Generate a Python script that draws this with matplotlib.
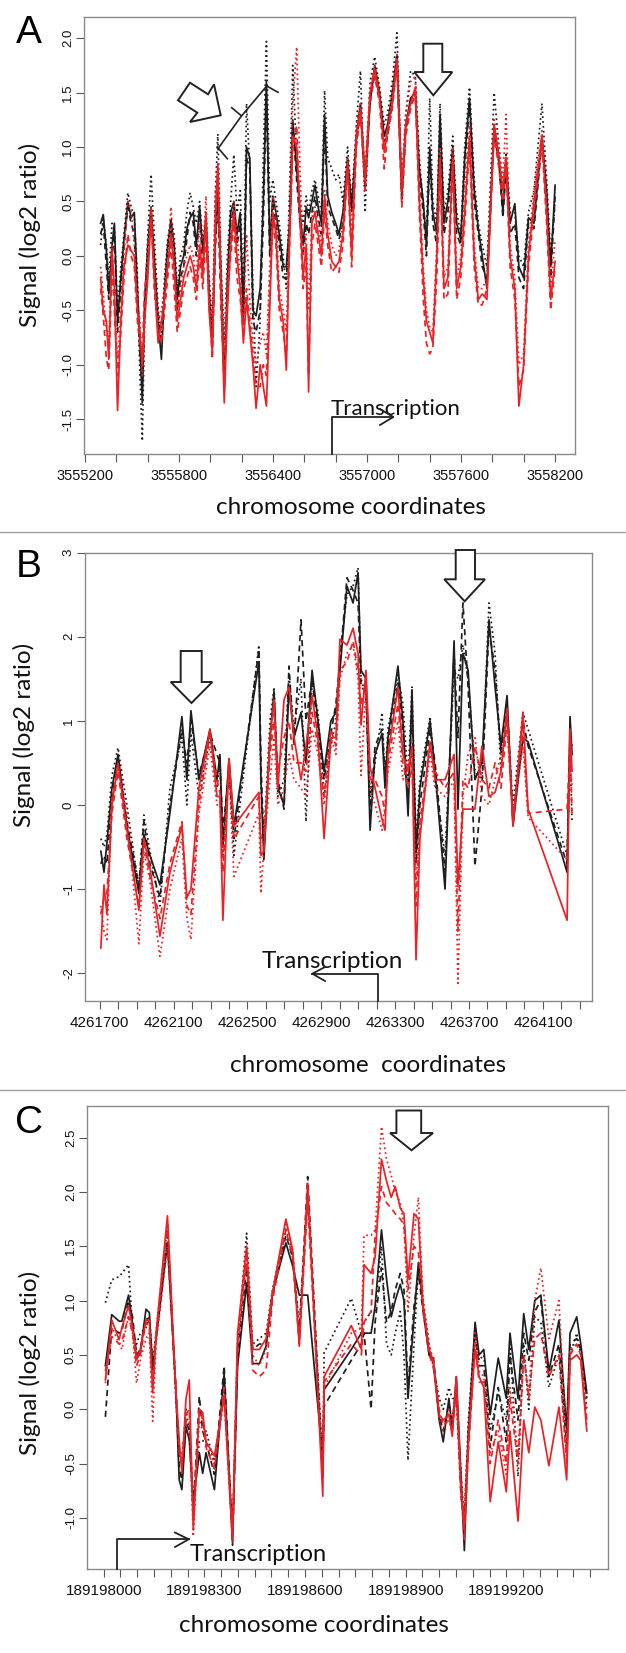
import numpy as np
import matplotlib
matplotlib.use("Agg")
import matplotlib.pyplot as plt
from matplotlib.patches import Polygon
from matplotlib.lines import Line2D

# ---------------- panel A data ----------------
a_pos = [3555300, 3555317, 3555337, 3555352, 3555373, 3555388, 3555408, 3555429, 3555449, 3555474,
         3555495, 3555515, 3555535, 3555551, 3555566, 3555581, 3555601, 3555622, 3555642, 3555667,
         3555688, 3555708, 3555728, 3555749, 3555769, 3555789, 3555810, 3555830, 3555850, 3555871,
         3555891, 3555911, 3555932, 3555952, 3555972, 3555992, 3556013, 3556033, 3556048, 3556069,
         3556089, 3556109, 3556130, 3556150, 3556170, 3556191, 3556211, 3556231, 3556252, 3556272,
         3556292, 3556318, 3556338, 3556358, 3556379, 3556399, 3556419, 3556440, 3556465, 3556485,
         3556506, 3556526, 3556551, 3556572, 3556592, 3556612, 3556627, 3556648, 3556668, 3556688,
         3556709, 3556729, 3556749, 3556775, 3556800, 3556821, 3556846, 3556876, 3556902, 3556932,
         3556958, 3556988, 3557019, 3557049, 3557080, 3557110, 3557130, 3557161, 3557191, 3557222,
         3557247, 3557278, 3557308, 3557334, 3557359, 3557379, 3557400, 3557420, 3557445, 3557466,
         3557491, 3557516, 3557547, 3557572, 3557598, 3557623, 3557654, 3557684, 3557710, 3557735,
         3557765, 3557811, 3557842, 3557867, 3557887, 3557913, 3557943, 3557969, 3557999, 3558030,
         3558065, 3558116, 3558146, 3558172, 3558200]
a_black_solid = [0.30, 0.38, 0.05, -0.35, 0.10, 0.30, -0.60, -0.20, 0.15, 0.50,
                 0.35, 0.40, -0.30, -0.80, -1.35, -0.40, 0.10, 0.45, 0.00, -0.60,
                 -0.95, -0.30, 0.10, 0.33, 0.10, -0.40, -0.10, 0.00, 0.25, 0.35,
                 0.40, 0.10, 0.45, 0.05, 0.35, -0.30, -0.80, 0.20, 0.60, -0.20,
                 -1.20, -0.20, 0.40, 0.50, 0.20, 0.40, -0.60, 1.00, 0.90, -0.50,
                 -0.55, -0.30, 0.50, 1.60, 0.10, 0.55, 0.40, 0.20, -0.10, -0.10,
                 0.30, 1.25, 0.80, 0.40, 0.10, 0.45, 0.35, 0.50, 0.65, 0.45,
                 0.30, 1.30, 0.55, 0.40, 0.30, 0.20, 0.40, 0.90, 0.45, 1.10,
                 1.40, 0.70, 1.40, 1.75, 1.50, 1.10, 1.20, 1.50, 1.85, 0.55,
                 1.20, 1.45, 1.50, 0.80, 0.50, 0.10, 1.00, 0.40, 0.20, 1.30,
                 0.30, 0.50, 1.00, 0.30, 0.15, 0.90, 1.45, 0.60, 0.25, 0.00,
                 -0.30, 1.20, 0.90, 0.40, 0.90, 0.30, 0.48, -0.10, -0.20, 0.35,
                 0.30, 1.10, 0.60, -0.10, 0.65]
a_black_dash = [0.20, 0.30, -0.10, -0.40, 0.00, 0.20, -0.70, -0.30, 0.10, 0.45,
                0.30, 0.20, -0.45, -0.90, -1.20, -0.50, 0.00, 0.35, -0.10, -0.55,
                -0.80, -0.40, 0.00, 0.30, 0.00, -0.50, -0.20, -0.10, 0.15, 0.40,
                0.30, 0.00, 0.40, -0.10, 0.30, -0.40, -0.75, 0.10, 0.50, -0.50,
                -1.10, -0.40, 0.30, 0.45, 0.10, 0.30, -0.70, 0.90, 0.80, -0.60,
                -0.70, -0.50, 0.30, 1.50, 0.00, 0.50, 0.30, 0.10, -0.20, -0.20,
                0.20, 1.20, 0.70, 0.30, 0.00, 0.30, 0.20, 0.40, 0.55, 0.35,
                0.20, 1.20, 0.45, 0.35, 0.25, 0.15, 0.30, 0.80, 0.40, 1.05,
                1.35, 0.60, 1.45, 1.70, 1.45, 1.05, 1.10, 1.40, 1.80, 0.50,
                1.15, 1.40, 1.45, 0.70, 0.40, 0.00, 0.90, 0.30, 0.10, 1.20,
                0.20, 0.40, 0.95, 0.20, 0.10, 0.80, 1.40, 0.50, 0.20, -0.10,
                -0.20, 1.15, 0.85, 0.35, 0.80, 0.20, 0.30, -0.20, -0.30, 0.30,
                0.25, 1.05, 0.50, -0.20, 0.55]
a_black_dot = [0.10, 0.35, 0.10, -0.20, 0.30, 0.25, -0.50, -0.10, 0.20, 0.58,
               0.45, 0.35, -0.20, -1.10, -1.70, -0.60, 0.20, 0.75, 0.20, -0.50,
               -0.70, -0.20, 0.15, 0.35, 0.20, -0.30, 0.00, 0.10, 0.40, 0.58,
               0.45, 0.30, 0.50, 0.10, 0.40, -0.20, -0.60, 0.60, 1.12, -0.10,
               -0.80, 0.00, 0.50, 0.93, 0.40, 0.60, -0.40, 1.40, 0.80, -0.30,
               -1.20, -0.60, 0.90, 1.97, 0.50, 0.70, 0.50, 0.30, 0.00, -0.30,
               0.60, 1.75, 0.90, 0.50, 0.30, 0.55, 0.40, 0.60, 0.70, 0.55,
               0.40, 1.52, 0.90, 0.80, 0.70, 0.75, 0.50, 1.00, 0.50, 1.20,
               1.70, 0.40, 1.60, 1.83, 1.55, 1.20, 1.30, 1.60, 2.05, 0.60,
               1.30, 1.70, 1.65, 0.90, 0.45, 0.20, 1.45, 0.50, 0.30, 1.40,
               0.40, 0.60, 1.10, 0.40, 0.20, 1.00, 1.55, 0.70, 0.30, 0.10,
               -0.10, 1.50, 1.00, 0.60, 0.95, 0.40, 0.40, 0.00, -0.10, 0.40,
               0.60, 1.40, 0.70, 0.00, 0.50]
a_red_solid = [-0.20, -0.50, -0.60, -0.95, 0.05, -0.30, -1.42, -0.60, -0.10, 0.10,
               0.05, 0.00, -0.50, -0.70, -1.00, -0.60, -0.20, 0.35, -0.20, -0.80,
               -0.60, -0.40, -0.10, 0.20, -0.10, -0.60, -0.40, -0.20, -0.10, 0.00,
               -0.10, -0.30, 0.10, -0.20, 0.40, -0.50, -0.90, 0.40, 0.85, -0.40,
               -1.35, -0.50, 0.10, 0.40, 0.00, -0.30, -0.80, -0.40, -0.70, -1.00,
               -1.40, -1.00, -1.20, -1.38, -0.50, 0.40, 0.20, -0.40, -0.60, -1.05,
               0.20, 1.10, 1.00, 0.40, -0.20, 0.10, -1.25, 0.30, 0.40, 0.20,
               0.00, 0.55, 0.20, -0.05, -0.10, -0.05, 0.20, 0.85, 0.00, 1.10,
               1.35, 0.70, 1.50, 1.72, 1.45, 0.95, 1.15, 1.40, 1.80, 0.60,
               1.20, 1.40, 1.55, 0.50, -0.20, -0.60, -0.70, -0.80, 0.00, 0.90,
               -0.30, -0.20, 0.90, -0.30, -0.10, 0.40, 1.10, 0.00, -0.40, -0.35,
               -0.40, 1.20, 0.90, 0.60, 0.90, 0.00, -0.30, -1.38, -1.00, 0.00,
               0.50, 1.10, 0.40, -0.40, -0.05]
a_red_dash = [-0.30, -0.55, -0.95, -1.05, -0.10, -0.50, -1.10, -0.70, -0.20, 0.20,
              0.00, -0.10, -0.60, -0.80, -0.90, -0.30, -0.10, 0.45, -0.30, -0.70,
              -0.80, -0.50, -0.20, 0.10, -0.30, -0.70, -0.50, -0.30, -0.20, -0.10,
              -0.20, -0.40, 0.00, -0.30, 0.20, -0.40, -0.95, 0.20, 0.80, -0.30,
              -1.20, -0.30, 0.00, 0.30, -0.20, -0.40, -0.70, -0.30, -0.60, -0.90,
              -1.20, -1.20, -1.00, -1.10, -0.30, 0.30, 0.10, -0.50, -0.70, -0.90,
              0.10, 1.00, 1.20, 0.30, -0.30, -0.10, -1.10, 0.10, 0.30, 0.10,
              -0.10, 0.40, 0.10, -0.15, -0.10, -0.15, 0.10, 0.80, -0.10, 1.00,
              1.30, 0.60, 1.40, 1.65, 1.40, 0.80, 1.10, 1.35, 1.75, 0.45,
              1.10, 1.35, 1.50, 0.40, -0.40, -0.80, -0.90, -0.85, -0.20, 0.80,
              -0.40, -0.35, 0.85, -0.40, -0.20, 0.30, 1.00, -0.10, -0.45, -0.45,
              -0.30, 1.10, 0.80, 0.50, 0.85, -0.10, -0.40, -1.20, -1.05, -0.10,
              0.40, 1.05, 0.30, -0.50, -0.10]
a_red_dot = [-0.10, -0.35, -0.70, -0.80, 0.10, -0.40, -0.95, -0.50, 0.00, 0.50,
             0.40, 0.10, -0.40, -0.60, -1.10, -0.50, 0.10, 0.40, -0.10, -0.60,
             -0.50, -0.30, 0.00, 0.45, 0.00, -0.50, -0.30, -0.10, 0.00, 0.10,
             0.00, -0.20, 0.30, -0.10, 0.55, -0.30, -0.70, 0.60, 0.70, -0.20,
             -0.90, -0.20, 0.20, 0.50, 0.20, -0.20, -0.60, 0.20, -0.40, -0.80,
             -1.00, -0.80, -0.70, -0.90, -0.10, 0.55, 0.40, -0.30, -0.50, -0.70,
             0.40, 1.40, 1.92, 0.80, 0.00, 0.20, -0.50, 0.35, 0.45, 0.30,
             0.10, 0.60, 0.30, 0.10, 0.00, 0.05, 0.30, 0.90, 0.20, 1.20,
             1.40, 0.80, 1.55, 1.75, 1.50, 1.00, 1.20, 1.50, 1.85, 0.70,
             1.30, 1.60, 1.65, 0.60, -0.10, -0.50, -0.65, -0.70, 0.10, 1.00,
             -0.20, -0.10, 1.00, -0.20, 0.00, 0.60, 1.20, 0.10, -0.30, -0.30,
             -0.20, 1.25, 1.00, 0.70, 1.30, 0.10, -0.20, -1.00, -0.90, 0.10,
             0.60, 1.15, 0.50, -0.30, 0.15]

# ---------------- panel B data ----------------
b_pos = [4261706, 4261723, 4261739, 4261766, 4261799, 4261847, 4261912, 4261939, 4261972, 4262026,
         4262080, 4262145, 4262172, 4262194, 4262237, 4262297, 4262335, 4262351, 4262367, 4262400,
         4262427, 4262562, 4262573, 4262589, 4262622, 4262644, 4262665, 4262698, 4262725, 4262752,
         4262790, 4262817, 4262850, 4262882, 4262915, 4262952, 4262979, 4263001, 4263039, 4263072,
         4263099, 4263115, 4263142, 4263164, 4263191, 4263229, 4263245, 4263261, 4263315, 4263342,
         4263370, 4263391, 4263413, 4263434, 4263489, 4263516, 4263570, 4263619, 4263640, 4263667,
         4263695, 4263732, 4263770, 4263808, 4263841, 4263873, 4263906, 4263938, 4263992, 4264020,
         4264231, 4264247, 4264258]
b_black_solid = [-0.55, -0.80, -0.45, 0.20, 0.60, -0.25, -1.05, -0.35, -0.60, -0.95,
                 -0.10, 1.05, 0.30, 1.12, 0.30, 0.90, 0.30, 0.60, -0.50, 0.55,
                 -0.25, 1.70, 0.30, -0.65, 0.80, 1.35, 0.20, 0.00, 1.40, 0.80,
                 1.10, 0.50, 1.60, 1.00, 0.40, 1.00, 1.10, 1.60, 2.60, 2.40,
                 2.76, 1.60, 1.50, -0.30, 0.60, 0.85, 0.20, 0.80, 1.65, 1.00,
                 -0.13, 1.37, -0.57, 0.20, 1.00, 0.40, -1.00, 1.95, -0.05, 1.80,
                 1.60, 0.30, 0.50, 2.20, 1.40, 0.70, 1.30, -0.25, 0.80, 0.75,
                 -0.80, 1.05, 0.60]
b_black_dash = [-0.70, -0.60, -0.70, 0.10, 0.55, -0.20, -0.95, -0.20, -0.70, -1.10,
                0.00, 0.90, 0.50, 1.00, 0.35, 0.85, 0.60, 0.50, -0.30, 0.40,
                -0.40, 1.85, 0.50, -0.50, 0.70, 1.25, 0.30, -0.05, 1.65, 0.70,
                2.20, 1.00, 1.50, 0.90, 0.30, 0.85, 1.20, 1.70, 2.70, 2.55,
                2.40, 1.40, 1.35, -0.10, 0.70, 0.90, 0.40, 0.70, 1.45, 0.90,
                0.10, 1.10, -0.70, 0.00, 0.90, 0.50, -0.80, 1.80, 0.80, 2.40,
                1.40, -0.73, 0.20, 2.10, 1.60, 0.60, 1.20, -0.20, 1.00, 0.70,
                -0.70, 0.80, 0.70]
b_black_dot = [-0.40, -0.50, -0.35, 0.35, 0.68, 0.00, -1.00, -0.12, -0.55, -1.20,
               0.20, 0.80, 0.00, 0.85, 0.10, 0.80, 0.20, 0.50, -0.60, 0.50,
               -0.60, 1.90, 0.20, -0.40, 1.00, 1.40, 0.10, 0.30, 1.55, 0.90,
               1.50, -0.20, 1.45, 1.10, 0.10, 0.70, 1.00, 1.80, 2.50, 2.60,
               2.82, 1.50, 1.30, 0.10, 0.50, 1.10, 0.30, 0.90, 1.55, 1.20,
               0.30, 1.40, -0.40, 0.30, 1.05, 0.30, -0.60, 1.60, 1.50, 1.90,
               1.50, 0.40, 0.30, 2.40, 1.80, 0.40, 1.10, 0.00, 1.10, 0.90,
               -0.60, 0.60, -0.20]
b_red_solid = [-1.70, -0.95, -1.30, 0.00, 0.50, -0.30, -1.25, -0.40, -0.75, -1.56,
               -0.80, -0.25, -1.10, -1.00, 0.20, 0.90, 0.10, 0.10, -1.37, 0.55,
               -0.25, 0.15, -0.60, -0.55, 0.80, 1.25, 0.20, 1.25, 1.40, 0.80,
               0.30, 0.70, 1.30, 0.80, -0.40, 0.80, 0.80, 1.97, 1.90, 2.10,
               1.80, 0.95, 1.60, 0.45, 0.20, -0.17, -0.30, 0.60, 1.40, 0.60,
               0.40, 0.70, -1.84, -0.40, 0.75, 0.30, 0.30, 0.60, -0.97, -0.05,
               -0.05, -0.05, 0.70, 0.10, 0.15, 0.40, 1.15, -0.25, 1.10, -0.05,
               -1.37, 0.90, 0.40]
b_red_dash = [-1.30, -1.10, -1.05, -0.10, 0.40, -0.40, -1.20, -0.45, -0.85, -1.35,
              -0.70, -0.20, -1.20, -1.30, 0.00, 0.85, 0.30, 0.15, -0.80, 0.50,
              -0.40, 0.10, -0.40, -0.35, 0.60, 1.00, 0.40, 0.80, 1.00, 0.50,
              0.50, 0.40, 1.10, 0.70, 0.10, 0.90, 0.70, 1.60, 1.70, 1.95,
              1.60, 1.20, 1.45, 0.30, 0.30, 0.10, -0.10, 0.50, 1.20, 0.50,
              0.20, 0.50, -1.20, -0.20, 0.70, 0.40, 0.20, 0.40, -1.50, 0.30,
              0.20, 0.70, 0.30, 0.20, 0.50, 0.20, 1.00, -0.20, 0.90, -0.10,
              -0.05, 0.70, -0.10]
b_red_dot = [-1.20, -1.50, -1.60, 0.10, 0.45, -0.10, -1.65, -0.55, -0.90, -1.80,
             -1.00, -0.40, -1.35, -1.60, -0.10, 0.70, 0.00, 0.00, -0.60, 0.40,
             -0.85, -0.10, -1.05, -0.50, 0.30, 0.80, 0.00, 0.20, 0.60, 0.30,
             0.20, 0.10, 0.90, 0.60, 0.00, 0.80, 0.60, 1.50, 1.80, 1.90,
             1.50, 0.35, 1.40, 0.20, 0.00, -0.30, 0.00, 0.40, 1.00, 0.30,
             0.50, 0.60, -0.90, -0.30, 0.60, 0.20, 0.10, 0.30, -2.12, 0.10,
             0.60, 0.80, 0.10, 0.00, 0.30, 0.60, 0.90, -0.10, 0.70, -0.15,
             -0.65, 0.60, 0.20]

# ---------------- panel C data ----------------
c_pos = [189198005, 189198024, 189198046, 189198054, 189198074, 189198086, 189198098, 189198109, 189198126, 189198136,
         189198146, 189198156, 189198190, 189198215, 189198225, 189198233, 189198245, 189198255, 189198267, 189198285,
         189198295, 189198305, 189198330, 189198359, 189198384, 189198399, 189198426, 189198444, 189198464, 189198484,
         189198503, 189198543, 189198563, 189198583, 189198608, 189198653, 189198657, 189198738, 189198768, 189198776,
         189198797, 189198809, 189198828, 189198843, 189198857, 189198869, 189198884, 189198895, 189198907, 189198925,
         189198938, 189198952, 189198970, 189198982, 189199000, 189199012, 189199029, 189199039, 189199051, 189199065,
         189199075, 189199087, 189199107, 189199119, 189199133, 189199152, 189199176, 189199200, 189199211, 189199235,
         189199252, 189199267, 189199285, 189199303, 189199327, 189199357, 189199380, 189199390, 189199410, 189199422,
         189199440]
c_black_solid = [0.40, 0.87, 0.81, 0.81, 1.05, 0.79, 0.46, 0.52, 0.92, 0.89,
                 0.36, 0.64, 1.53, 0.18, -0.65, -0.74, -0.16, -0.28, -0.86, -0.40,
                 -0.59, -0.40, -0.74, 0.33, -1.20, 0.40, 1.16, 0.42, 0.42, 0.58,
                 1.07, 1.53, 1.32, 1.05, 1.05, -0.46, 0.18, 0.55, 0.70, 0.70,
                 0.70, 0.95, 1.65, 1.20, 0.85, 1.00, 1.15, 1.00, 0.10, 0.85,
                 1.35, 0.95, 0.50, 0.45, -0.10, -0.30, 0.10, -0.20, 0.30, -0.60,
                 -1.30, -0.20, 0.80, 0.50, 0.55, -0.05, 0.47, 0.10, 0.70, 0.10,
                 0.88, 0.55, 1.00, 1.05, 0.35, 0.82, -0.20, 0.70, 0.85, 0.60,
                 0.15]
c_black_dash = [-0.07, 0.75, 0.70, 0.72, 1.00, 0.85, 0.50, 0.55, 0.85, 0.80,
                0.40, 0.65, 1.60, 0.20, -0.55, -0.65, -0.10, -0.20, -0.95, 0.12,
                -0.20, -0.30, -0.60, 0.40, -1.25, 0.50, 1.30, 0.55, 0.60, 0.60,
                1.05, 1.60, 1.40, 0.70, 2.14, -0.60, 0.03, 0.45, 0.60, 0.70,
                0.00, 0.80, 1.30, 0.80, 0.90, 1.10, 1.25, 1.10, 0.20, 0.95,
                1.25, 0.90, 0.50, 0.50, -0.05, -0.20, 0.05, -0.10, 0.20, -0.80,
                -1.05, -0.30, 0.70, 0.40, 0.40, -0.35, 0.20, -0.30, 0.50, -0.10,
                0.70, 0.45, 0.90, 1.00, 0.30, 0.60, -0.35, 0.60, 0.65, 0.55,
                0.10]
c_black_dot = [0.98, 1.19, 1.22, 1.25, 1.33, 0.73, 0.60, 0.70, 0.75, 0.85,
               0.45, 0.70, 1.70, 0.10, -0.40, -0.50, 0.00, -0.20, -0.80, -0.30,
               -0.30, -0.20, -0.50, 0.20, -1.10, 0.60, 1.62, 0.60, 0.65, 0.70,
               1.10, 1.65, 1.45, 0.75, 2.00, -0.50, 0.52, 1.02, 0.70, 0.80,
               0.90, 0.90, 1.50, 0.60, 0.50, 0.70, 0.90, 0.50, -0.47, 0.60,
               1.30, 1.00, 0.60, 0.40, 0.10, 0.00, 0.20, 0.10, 0.10, -0.60,
               -1.00, -0.10, 0.75, 0.45, 0.50, -0.20, 0.15, -0.10, 0.60, -0.62,
               0.60, 0.00, 0.85, 0.80, 0.20, 0.50, -0.45, 0.50, 0.70, 0.50,
               0.00]
c_red_solid = [0.27, 0.82, 0.64, 0.75, 0.95, 0.75, 0.46, 0.55, 0.82, 0.82,
               0.15, 0.70, 1.78, 0.18, -0.28, -0.59, 0.09, 0.27, -1.11, 0.00,
               -0.03, -0.30, -0.43, 0.12, -1.20, 0.70, 1.50, 0.55, 0.55, 0.65,
               1.07, 1.75, 1.47, 0.58, 2.08, -0.80, 0.30, 0.77, 0.55, 1.33,
               1.25, 1.40, 2.30, 2.10, 1.95, 2.05, 1.85, 1.80, 1.20, 1.80,
               1.75, 0.95, 0.55, 0.45, -0.05, -0.10, -0.05, -0.25, 0.30, -0.70,
               -1.10, -0.30, 0.55, 0.30, 0.20, -0.85, -0.30, -0.76, -0.20, -1.03,
               -0.10, -0.40, 0.02, -0.10, -0.52, 0.02, -0.65, 0.45, 0.50, 0.45,
               -0.20]
c_red_dash = [0.35, 0.67, 0.60, 0.62, 0.85, 0.70, 0.40, 0.50, 0.80, 0.75,
              0.20, 0.65, 1.70, 0.15, -0.40, -0.50, -0.05, 0.00, -1.00, 0.00,
              -0.10, -0.35, -0.55, 0.20, -1.15, 0.60, 1.40, 0.36, 0.30, 0.36,
              1.00, 1.65, 1.40, 0.60, 1.90, -0.65, 0.25, 0.60, 0.50, 0.80,
              0.90, 1.60, 2.05, 1.90, 1.85, 1.80, 1.75, 1.70, 1.10, 1.50,
              1.45, 0.90, 0.50, 0.40, 0.00, -0.15, -0.10, -0.20, 0.20, -0.75,
              -1.20, -0.40, 0.60, 0.25, 0.25, -0.50, -0.10, -0.50, 0.10, -0.50,
              0.50, 0.10, 0.65, 0.70, 0.30, 0.50, -0.50, 0.50, 0.60, 0.50,
              -0.10]
c_red_dot = [0.24, 0.75, 0.61, 0.55, 0.86, 0.70, 0.24, 0.45, 0.65, 0.70,
             -0.11, 0.60, 1.50, 0.20, -0.35, -0.45, -0.10, -0.10, -1.17, -0.10,
             -0.20, -0.30, -0.50, 0.10, -1.22, 0.55, 1.35, 0.50, 0.40, 0.55,
             1.05, 1.70, 1.45, 0.65, 1.95, -0.55, 0.20, 0.70, 0.75, 1.60,
             1.60, 1.65, 2.60, 2.30, 2.15, 2.00, 1.90, 1.70, 0.90, 1.60,
             1.95, 1.00, 0.60, 0.45, -0.10, -0.20, 0.00, -0.10, 0.10, -0.80,
             -0.90, -0.20, 0.70, 0.35, 0.30, -0.40, -0.20, -0.60, 0.20, -0.40,
             0.50, 0.15, 1.00, 1.30, 0.65, 1.00, -0.40, 0.55, 0.60, 0.50,
             -0.15]

# ---------------- layout ----------------
W, H = 626, 1653
BLACK = "#1e1e1e"
RED = "#ee2024"
TEXT_FONT = ["Lato", "DejaVu Sans"]
NUM_FONT = ["Liberation Sans", "DejaVu Sans"]

fig = plt.figure(figsize=(W / 100, H / 100), dpi=100)
fig.patch.set_facecolor("white")


def fxy(x, y):
    return x / W, 1 - y / H


def make_axes(left, top, right, bottom):
    return fig.add_axes([left / W, 1 - bottom / H, (right - left) / W, (bottom - top) / H])


def draw_series(ax, pos, series):
    styles = [("-", BLACK), ((0, (3.5, 2.5)), BLACK), ((0, (1, 1.8)), BLACK),
              ("-", RED), ((0, (3.5, 2.5)), RED), ((0, (1, 1.8)), RED)]
    for ys, (ls, col) in zip(series, styles):
        ax.plot(pos, ys, linestyle=ls, color=col, lw=1.25)


def style_axes(ax, xlim, ylim, xticks, xlabels, yticks, ylabels, xsize):
    ax.set_xlim(*xlim)
    ax.set_ylim(*ylim)
    for sp in ax.spines.values():
        sp.set_color("#8a8a8a")
        sp.set_linewidth(1.0)
    ax.set_xticks(xticks)
    ax.set_xticklabels(xlabels, fontfamily=NUM_FONT, fontsize=xsize, color="#111111")
    ax.set_yticks(yticks)
    ax.set_yticklabels(ylabels, fontfamily=NUM_FONT, fontsize=9.5, color="#111111",
                       rotation=90, va="center")
    ax.tick_params(axis="x", direction="out", length=6, width=0.8, color="#555555", pad=5)
    ax.tick_params(axis="y", direction="out", length=6, width=0.8, color="#555555", pad=1)


def block_arrow(pts):
    fig.add_artist(Polygon([fxy(x, y) for x, y in pts], closed=True, transform=fig.transFigure,
                           facecolor="white", edgecolor="#222222", lw=1.4, zorder=5))


def polyline(pts, lw=1.3):
    xs, ys = zip(*[fxy(x, y) for x, y in pts])
    fig.add_artist(Line2D(xs, ys, transform=fig.transFigure, color="#222222", lw=lw, zorder=5))


def down_arrow(x0, x1, top, neck, hx0, hx1, tip):
    cx = (hx0 + hx1) / 2
    block_arrow([(x0, top), (x1, top), (x1, neck), (hx1, neck), (cx, tip), (hx0, neck), (x0, neck)])


def ftext(x, y, s, size, **kw):
    fig.text(*fxy(x, y), s, fontsize=size, fontfamily=TEXT_FONT, color="#111111", **kw)


# ---------------- panel A ----------------
axA = make_axes(84, 17, 575, 454)
draw_series(axA, a_pos, [a_black_solid, a_black_dash, a_black_dot, a_red_solid, a_red_dash, a_red_dot])
a_ticks = np.arange(3555200, 3558201, 200)
style_axes(axA, (3555194, 3558327), (-1.82, 2.195), a_ticks,
           [str(t) if (t - 3555200) % 600 == 0 else "" for t in a_ticks],
           np.arange(-1.5, 2.01, 0.5), ["-1.5", "-1.0", "-0.5", "0.0", "0.5", "1.0", "1.5", "2.0"], 10.5)

# ---------------- panel B ----------------
axB = make_axes(84.6, 552.5, 592, 1001)
draw_series(axB, b_pos, [b_black_solid, b_black_dash, b_black_dot, b_red_solid, b_red_dash, b_red_dot])
b_ticks = np.arange(4261700, 4264301, 100)
style_axes(axB, (4261618, 4264366), (-2.33, 3.0), b_ticks,
           [str(t) if (t - 4261700) % 400 == 0 else "" for t in b_ticks],
           np.arange(-2, 3.01, 1), ["-2", "-1", "0", "1", "2", "3"], 11)

# ---------------- panel C ----------------
axC = make_axes(86.6, 1106, 607.6, 1569)
draw_series(axC, c_pos, [c_black_solid, c_black_dash, c_black_dot, c_red_solid, c_red_dash, c_red_dot])
c_ticks = np.arange(189198000, 189199451, 50)
style_axes(axC, (189197949, 189199502), (-1.47, 2.79), c_ticks,
           [str(t) if (t - 189198000) % 300 == 0 else "" for t in c_ticks],
           np.arange(-1.0, 2.51, 0.5), ["-1.0", "-0.5", "0.0", "0.5", "1.0", "1.5", "2.0", "2.5"], 11)

# ---------------- axis titles, panel letters, separators ----------------
for y in (532, 1090):
    fig.add_artist(Line2D([0, 1], [1 - y / H] * 2, transform=fig.transFigure, color="#a0a0a0", lw=1.0))

ftext(351, 507, "chromosome coordinates", 17.5, ha="center", va="center")
ftext(368, 1065, "chromosome  coordinates", 17.5, ha="center", va="center")
ftext(314, 1625, "chromosome coordinates", 17.5, ha="center", va="center")
ftext(30, 235, "Signal (log2 ratio)", 17.5, ha="center", va="center", rotation=90)
ftext(24, 735, "Signal (log2 ratio)", 17.5, ha="center", va="center", rotation=90)
ftext(30, 1363, "Signal (log2 ratio)", 17.5, ha="center", va="center", rotation=90)

for x, y, s in [(29, 33, "A"), (29, 567, "B"), (29, 1123, "C")]:
    fig.text(*fxy(x, y), s, fontsize=28, fontfamily=NUM_FONT, ha="center", va="center", color="black")

# ---------------- transcription arrows ----------------
polyline([(332.3, 454), (332.3, 417), (393.3, 417)])
polyline([(380, 409), (393.3, 417), (380, 425)])
ftext(331, 415, "Transcription", 16, ha="left", va="baseline")

polyline([(378.3, 1001), (378.3, 973.7), (312.3, 973.7)])
polyline([(325, 967), (312.3, 973.7), (325, 981)])
ftext(262, 968, "Transcription", 17.5, ha="left", va="baseline")

polyline([(116.7, 1569), (116.7, 1539.3), (188.7, 1539.3)])
polyline([(175, 1532.5), (188.7, 1539.3), (175, 1547)])
ftext(190, 1561, "Transcription", 17, ha="left", va="baseline")

# ---------------- block arrows ----------------
down_arrow(423.3, 442.3, 43.7, 72, 414.3, 452.3, 95.3)
down_arrow(180.7, 201.7, 651, 682, 170.7, 212.3, 703)
down_arrow(455.7, 475, 550, 579.3, 444.3, 485, 601.3)
down_arrow(396.4, 421.2, 1110.5, 1133, 390, 433, 1150.3)
block_arrow([(178, 100.3), (190, 82.7), (208, 94.3), (214, 84.3), (220.7, 115.3), (190, 122), (197.3, 112.7)])

# thin hand-drawn arrow in panel A
polyline([(218, 148.7), (240.7, 117), (266.7, 86)], lw=1.2)
polyline([(266.7, 86), (278, 92.3)], lw=1.2)
polyline([(231.7, 107.7), (241.3, 115.7)], lw=1.2)
polyline([(217.3, 147), (227.3, 158.7)], lw=1.2)

fig.savefig("out.png", dpi=100, facecolor="white")
